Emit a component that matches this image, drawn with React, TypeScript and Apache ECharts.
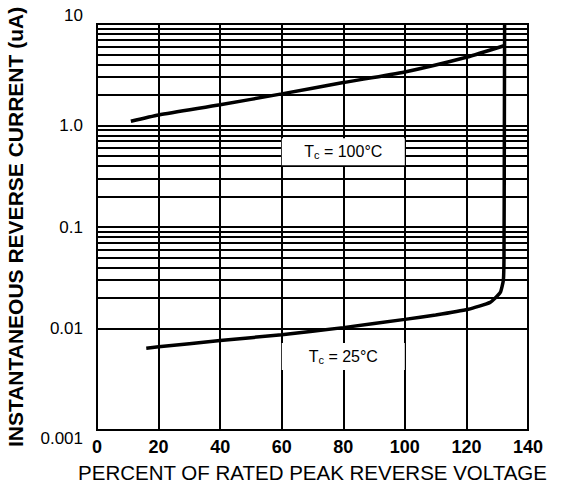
import React, { useEffect, useRef } from "react";
import * as echarts from "echarts";

// X axis: percent of rated peak reverse voltage
const xTicks = [0, 20, 40, 60, 80, 100, 120, 140];
// Y axis tick labels (log decades 0.001 .. 10)
const yTickValues = [0.001, 0.01, 0.1, 1, 10];
const yTickLabels = ["0.001", "0.01", "0.1", "1.0", "10"];
// Minor horizontal grid lines (2..9 per decade)
const minorGridValues = [
  0.002, 0.003, 0.004, 0.005, 0.006, 0.007, 0.008, 0.009,
  0.02, 0.03, 0.04, 0.05, 0.06, 0.07, 0.08, 0.09,
  0.2, 0.3, 0.4, 0.5, 0.6, 0.7, 0.8, 0.9,
  2, 3, 4, 5, 6, 7, 8, 9,
];

// Tc = 100°C curve
const x100 = [11, 20, 40, 60, 80, 100, 120, 132.2];
const y100 = [1.1, 1.27, 1.6, 2.05, 2.65, 3.37, 4.7, 6.1];

// Tc = 25°C curve
const x25 = [16, 20, 40, 60, 80, 100, 110, 120.6, 127.7, 131, 132, 132.2, 132.3, 132.4];
const y25 = [0.0064, 0.0066, 0.0076, 0.0087, 0.0102, 0.0123, 0.0136, 0.0155, 0.0181, 0.0227, 0.03, 0.05, 0.5, 10];

// Label annotations
const label100 = { x: 80, y: 0.55, text: "100°C" };
const label25 = { x: 80, y: 0.0053, text: "25°C" };

const FONT = "'Liberation Sans', Arial, Helvetica, sans-serif";

export default function App() {
  const ref = useRef<HTMLDivElement>(null);

  useEffect(() => {
    if (!ref.current) return;
    const chart = echarts.init(ref.current, undefined, { renderer: "svg" });

    const richLabel = {
      t: { fontSize: 16, fontFamily: FONT, color: "#000" },
      s: { fontSize: 11, fontFamily: FONT, color: "#000", padding: [7, 0, 0, 0] },
    };
    const mkLabel = (l: { x: number; y: number; text: string }) => ({
      coord: [l.x, l.y],
      symbol: "rect",
      symbolSize: [123, 27],
      itemStyle: { color: "#fff", borderWidth: 0 },
      label: {
        show: true,
        position: "inside",
        formatter: "{t|T}{s|c}{t| = " + l.text + "}",
        rich: richLabel,
      },
    });

    const option: any = {
      animation: false,
      backgroundColor: "#fff",
      textStyle: { fontFamily: FONT, color: "#000" },
      grid: {
        left: 97,
        right: 38,
        top: 24,
        bottom: 54,
        containLabel: false,
        outerBoundsMode: "none",
        show: true,
        borderColor: "#000",
        borderWidth: 2,
        backgroundColor: "transparent",
      },
      xAxis: {
        type: "value",
        min: xTicks[0],
        max: xTicks[xTicks.length - 1],
        interval: 20,
        name: "PERCENT OF RATED PEAK REVERSE VOLTAGE",
        nameLocation: "middle",
        nameGap: 32,
        nameTextStyle: { fontSize: 20.5, fontFamily: FONT, color: "#000" },
        axisLine: { show: true, lineStyle: { color: "#000", width: 2 } },
        axisTick: { show: false },
        axisLabel: {
          color: "#000",
          fontSize: 18,
          fontWeight: "bold",
          fontFamily: FONT,
          margin: 8,
        },
        splitLine: { show: true, lineStyle: { color: "#000", width: 2 } },
      },
      yAxis: {
        type: "log",
        logBase: 10,
        min: yTickValues[0],
        max: yTickValues[yTickValues.length - 1],
        name: "INSTANTANEOUS REVERSE CURRENT (uA)",
        nameLocation: "middle",
        nameGap: 71,
        nameTextStyle: { fontSize: 21, fontWeight: "bold", fontFamily: FONT, color: "#000" },
        axisLine: { show: true, lineStyle: { color: "#000", width: 2 } },
        axisTick: { show: false },
        axisLabel: {
          color: "#000",
          fontSize: 17,
          fontFamily: FONT,
          margin: 14,
          verticalAlignMinLabel: "top",
          verticalAlignMaxLabel: "bottom",
          formatter: (v: number) => {
            const i = yTickValues.findIndex((t) => Math.abs(Math.log10(t) - Math.log10(v)) < 1e-6);
            return i >= 0 ? yTickLabels[i] : "";
          },
        },
        splitLine: { show: true, lineStyle: { color: "#000", width: 2 } },
      },
      series: [
        {
          name: "grid-minor",
          type: "line",
          data: [],
          z: 1,
          silent: true,
          markLine: {
            silent: true,
            symbol: ["none", "none"],
            label: { show: false },
            lineStyle: { color: "#000", width: 2, type: "solid" },
            emphasis: { disabled: true },
            data: minorGridValues.map((v) => ({ yAxis: v })),
          },
        },
        {
          name: "Tc=100°C",
          type: "line",
          z: 3,
          symbol: "none",
          smooth: 0.2,
          lineStyle: { color: "#000", width: 3.5 },
          data: x100.map((x, i) => [x, y100[i]]),
        },
        {
          name: "Tc=25°C",
          type: "line",
          z: 3,
          symbol: "none",
          smooth: 0.15,
          lineStyle: { color: "#000", width: 3.5 },
          data: x25.map((x, i) => [x, y25[i]]),
        },
        {
          name: "labels",
          type: "line",
          data: [],
          z: 6,
          silent: true,
          markPoint: {
            silent: true,
            data: [mkLabel(label100), mkLabel(label25)],
          },
        },
      ],
    };

    chart.setOption(option);
    return () => chart.dispose();
  }, []);

  return (
    <div
      ref={ref}
      style={{ position: "absolute", left: 0, top: 0, width: 566, height: 484, background: "#fff" }}
    />
  );
}
